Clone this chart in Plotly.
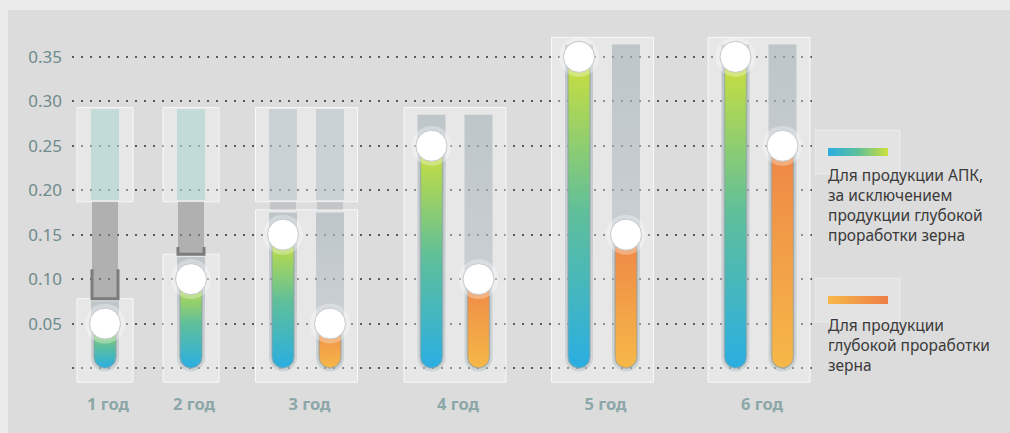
import numpy as np
import plotly.graph_objects as go

# ---------------- data ----------------
YEARS = ["1 год", "2 год", "3 год", "4 год", "5 год", "6 год"]
APK = [0.05, 0.10, 0.15, 0.25, 0.35, 0.35]
DEEP = [None, None, 0.05, 0.10, 0.15, 0.25]
Y_TICKS = [0, 0.05, 0.10, 0.15, 0.20, 0.25, 0.30, 0.35]
Y_TICK_TEXT = ["", "0.05", "0.10", "0.15", "0.20", "0.25", "0.30", "0.35"]
SERIES_NAMES = [
    "Для продукции АПК,<br>за исключением<br>продукции глубокой<br>проработки зерна",
    "Для продукции<br>глубокой проработки<br>зерна",
]

# ---------------- layout constants ----------------
W, H = 1010, 433
PL, PR, PT, PB = 72, 815, 20, 392          # plot box in pixels
Y_RANGE = [-0.027, 0.3915]
X_RANGE = [0, PR - PL]
KX = (PR - PL) / (X_RANGE[1] - X_RANGE[0])
KY = (PB - PT) / (Y_RANGE[1] - Y_RANGE[0])
GROUP_CX = [33, 119, 234.5, 383, 530.5, 687]
PAIR_OFF = 23.5
LABEL_SHIFT = 3
BAR_R = 11
TRACK_R = 14
BOX_PAD_TOP = 0.028
BOX_BOTTOM = -0.016
UPPER_BOX = (0.187, 0.293)
BRACKET_H = [0.033, 0.008]
UPPER_TRACK = ["rgba(150,205,198,0.45)", "rgba(150,205,198,0.45)", "rgba(160,178,186,0.42)"]
GAP_TRACK = ["rgba(140,140,140,0.55)", "rgba(140,140,140,0.55)", "rgba(150,158,162,0.35)"]
TRACK_COLORS = [[0, "rgba(170,182,188,0.40)"], [1, "rgba(150,165,172,0.50)"]]

APK_SCALE = [[0, "#2aaee2"], [0.5, "#5fbf9a"], [1, "#cde03a"]]
DEEP_SCALE = [[0, "#f6b848"], [1, "#ee8646"]]
FONT = "Noto Sans"


def capsule(cx, y0, y1, r_px, round_top):
    rx, ry = r_px / KX, r_px / KY
    t_bot = np.linspace(np.pi, 2 * np.pi, 24)
    xs = list(cx + rx * np.cos(t_bot))
    ys = list(y0 + ry + ry * np.sin(t_bot))
    if round_top:
        t_top = np.linspace(0, np.pi, 24)
        xs += list(cx + rx * np.cos(t_top))
        ys += list(y1 - ry + ry * np.sin(t_top))
    else:
        xs += [cx + rx, cx - rx]
        ys += [y1, y1]
    xs.append(xs[0])
    ys.append(ys[0])
    return xs, ys


def rect_path(cx, y0, y1, r_px):
    rx = r_px / KX
    return [cx - rx, cx + rx, cx + rx, cx - rx, cx - rx], [y0, y0, y1, y1, y0]


def fill_trace(xs, ys, color=None, scale=None, gtype="vertical", line=None, xaxis="x", yaxis="y"):
    kw = dict(x=xs, y=ys, mode="lines", fill="toself", xaxis=xaxis, yaxis=yaxis,
              line=line or dict(width=0), hoverinfo="skip", showlegend=False)
    if scale is not None:
        kw["fillgradient"] = dict(type=gtype, colorscale=scale)
    else:
        kw["fillcolor"] = color
    return go.Scatter(**kw)


fig = go.Figure()
shapes = []

# background panel
shapes.append(dict(type="rect", xref="paper", yref="paper", x0=8 / W, x1=1, y0=0, y1=1 - 10 / H,
                   fillcolor="#dcdcdc", line_width=0, layer="below"))

bars = []  # (x, value, scale)
for i, cx in enumerate(GROUP_CX):
    if DEEP[i] is None:
        bars.append((cx, APK[i], APK_SCALE))
        half = 28
        xs_list = [cx]
    else:
        bars.append((cx - PAIR_OFF, APK[i], APK_SCALE))
        bars.append((cx + PAIR_OFF, DEEP[i], DEEP_SCALE))
        half = 51
        xs_list = [cx - PAIR_OFF, cx + PAIR_OFF]
    top = max(v for v in (APK[i], DEEP[i]) if v is not None)
    split = top + BOX_PAD_TOP < UPPER_BOX[0]
    if split:
        low_top = top + BOX_PAD_TOP
        boxes = [(BOX_BOTTOM, low_top), UPPER_BOX]
    else:
        btop = max(top + 0.022, UPPER_BOX[1])
        boxes = [(BOX_BOTTOM, btop)]
    for (b0, b1) in boxes:
        shapes.append(dict(type="rect", xref="x", yref="y", x0=cx - half, x1=cx + half, y0=b0, y1=b1,
                           fillcolor="rgba(255,255,255,0.32)", line=dict(color="rgba(255,255,255,0.75)", width=1),
                           layer="between"))
    # tracks
    for bx in xs_list:
        if split:
            tx, ty = capsule(bx, -0.004, low_top - 0.003, TRACK_R, False)
            fig.add_trace(fill_trace(tx, ty, scale=TRACK_COLORS))
            gx, gy = rect_path(bx, low_top, UPPER_BOX[0], TRACK_R - 1)
            fig.add_trace(fill_trace(gx, gy, color=GAP_TRACK[i]))
            ux, uy = rect_path(bx, UPPER_BOX[0] + 0.002, UPPER_BOX[1] - 0.002, TRACK_R)
            fig.add_trace(fill_trace(ux, uy, color=UPPER_TRACK[i]))
        else:
            tx, ty = capsule(bx, -0.004, boxes[0][1] - 0.008, TRACK_R, False)
            fig.add_trace(fill_trace(tx, ty, scale=TRACK_COLORS))
    if i < len(BRACKET_H):
        bt = top + BOX_PAD_TOP
        x0, x1 = cx - 13, cx + 13
        shapes.append(dict(type="path", xref="x", yref="y",
                           path=f"M {x0},{bt + BRACKET_H[i]} L {x0},{bt} L {x1},{bt} L {x1},{bt + BRACKET_H[i]}",
                           line=dict(color="#7c7c7c", width=3), layer="above"))

# coloured bars
for (bx, v, scale) in bars:
    px, py = capsule(bx, 0, v, BAR_R, False)
    fig.add_trace(fill_trace(px, py, scale=scale, line=dict(width=1.5, color="rgba(140,160,165,0.6)")))

# glowing caps
cap_x = [b[0] for b in bars]
cap_y = [b[1] for b in bars]
fig.add_trace(go.Scatter(x=cap_x, y=cap_y, mode="markers",
                         marker=dict(size=40, color="rgba(255,255,255,0.30)", line_width=0),
                         hoverinfo="skip", showlegend=False))
fig.add_trace(go.Scatter(x=cap_x, y=cap_y, mode="markers",
                         marker=dict(size=31, color="#ffffff", line=dict(color="rgba(190,195,200,0.9)", width=1)),
                         showlegend=False))

# legend swatches (pixel-space axes)
SW = [(828, 888, 152), (828, 888, 300)]
SW_SCALES = [[[0, "#2aaee2"], [0.5, "#5fbf9a"], [1, "#cde03a"]], [[0, "#f6b848"], [1, "#ee7e46"]]]
for (sx0, sx1, sy), scale in zip(SW, SW_SCALES):
    shapes.append(dict(type="rect", xref="x2", yref="y2", x0=sx0 - 13, x1=sx1 + 12, y0=sy - 22, y1=sy + 22,
                       fillcolor="rgba(255,255,255,0.22)", line=dict(color="rgba(255,255,255,0.4)", width=1),
                       layer="between"))
    fig.add_trace(fill_trace([sx0, sx1, sx1, sx0, sx0], [sy - 4, sy - 4, sy + 4, sy + 4, sy - 4],
                             scale=scale, gtype="horizontal", xaxis="x2", yaxis="y2"))

annotations = [
    dict(xref="paper", yref="paper", x=826 / W, y=1 - 162 / H, xanchor="left", yanchor="top",
         text=SERIES_NAMES[0], showarrow=False, align="left",
         font=dict(family=FONT, size=15.5, color="#3a3a3a")),
    dict(xref="paper", yref="paper", x=826 / W, y=1 - 312 / H, xanchor="left", yanchor="top",
         text=SERIES_NAMES[1], showarrow=False, align="left",
         font=dict(family=FONT, size=15.5, color="#3a3a3a")),
]

fig.update_layout(
    width=W, height=H, margin=dict(l=0, r=0, t=0, b=0),
    paper_bgcolor="#ebebeb", plot_bgcolor="rgba(0,0,0,0)",
    template="none",
    shapes=shapes, annotations=annotations, showlegend=False,
    xaxis=dict(domain=[PL / W, PR / W], range=X_RANGE, showgrid=False, zeroline=False, showline=False,
               tickvals=[c + LABEL_SHIFT for c in GROUP_CX], ticktext=YEARS, ticks="",
               tickfont=dict(family=FONT, size=16.5, color="#8ca7a8", weight="bold"), automargin=False),
    yaxis=dict(domain=[1 - PB / H, 1 - PT / H], range=Y_RANGE, tickvals=Y_TICKS, ticktext=Y_TICK_TEXT,
               showgrid=True, gridcolor="#5a5a5a", gridwidth=2, griddash="2px,7px", zeroline=False,
               showline=False, ticks="", ticklabelstandoff=9,
               tickfont=dict(family=FONT, size=17, color="#6f8b8c"), automargin=False),
    xaxis2=dict(domain=[PR / W, 1], range=[PR, W], visible=False, fixedrange=True),
    yaxis2=dict(domain=[0, 1], range=[H, 0], visible=False, fixedrange=True),
)

fig.write_html("out.html", config={"displayModeBar": False},
               post_script="document.body.style.margin='0px';")
